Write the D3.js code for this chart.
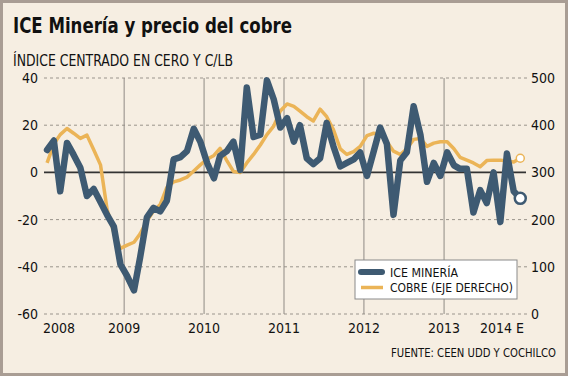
<!DOCTYPE html>
<html>
<head>
<meta charset="utf-8">
<script src="https://cdn.jsdelivr.net/npm/d3@7"></script>
<style>
  body { margin: 0; background: #fff; }
  svg text { font-family: "DejaVu Sans Condensed", "DejaVu Sans", sans-serif; fill: #111; }
</style>
</head>
<body>
<div id="chart"></div>
<script>
// monthly values, Jan 2008 .. Dec 2013
var iceMineria = [
  9.5, 13.5, -8, 12.5, 7.5, 2, -10, -7, -12.5, -18, -23, -39,
  -44, -50, -36, -19, -15, -16.5, -12, 5.5, 6.5, 9, 18.5, 13,
  4, -2.5, 7, 9, 13, 1, 36, 15, 16, 39, 31, 19,
  23, 13, 20, 6, 3.5, 6, 21, 11, 2.5, 4, 5.5, 8.5,
  -1.5, 9, 19, 12, -18, 5, 8.5, 28, 16, -4, 4, -1.5,
  8.5, 3, 1.5, 1.5, -17, -7.5, -13, 0, -21, 8, -8, -11
];
var cobre = [
  320, 360, 380, 393, 383, 372, 379, 348, 316, 222, 172, 139,
  146, 152, 170, 197, 218, 232, 268, 280, 284, 290, 303, 316,
  328, 336, 351, 325, 302, 300, 320, 338, 358, 380, 398, 430,
  445, 440, 430, 418, 409, 434, 418, 390, 350, 338, 344, 355,
  378, 383, 380, 365, 345, 338, 350, 370, 372, 355, 362, 365,
  365, 350, 332, 326, 320, 312, 325, 326, 326, 324, 322, 330
];
var leftTicks = [-60, -40, -20, 0, 20, 40];
var rightTicks = [0, 100, 200, 300, 400, 500];
var years = [2008, 2009, 2010, 2011, 2012, 2013, 2014];
var yearLabels = ["2008", "2009", "2010", "2011", "2012", "2013", "2014 E"];

var months = d3.timeMonth.range(new Date(2008, 0, 1), new Date(2014, 0, 1))
  .map(function (d) { return new Date(d.getFullYear(), d.getMonth(), 15); });

var W = 568, H = 376;
var blue = "#3e5a72", orange = "#ebb457";

var svg = d3.select("#chart").append("svg")
  .attr("width", W).attr("height", H);

svg.append("rect")
  .attr("x", 1.5).attr("y", 1.5).attr("width", W - 3).attr("height", H - 3)
  .attr("fill", "#f6eee2").attr("stroke", "#a99d94").attr("stroke-width", 3);

var x = d3.scaleTime()
  .domain([new Date(2008, 0, 1), new Date(2014, 0, 1)])
  .range([44, 524]);
var y = d3.scaleLinear().domain([-60, 40]).range([314, 78]);
var y2 = d3.scaleLinear().domain([0, 500]).range([314, 78]);

// title
svg.append("text")
  .attr("x", 13).attr("y", 33)
  .attr("font-size", 22).attr("font-weight", "bold")
  .attr("textLength", 279).attr("lengthAdjust", "spacingAndGlyphs")
  .text("ICE Minería y precio del cobre");
svg.append("text")
  .attr("x", 13).attr("y", 66)
  .attr("font-size", 15)
  .attr("textLength", 220).attr("lengthAdjust", "spacingAndGlyphs")
  .text("ÍNDICE CENTRADO EN CERO Y C/LB");

// horizontal grid
svg.append("g").selectAll("line")
  .data(leftTicks.filter(function (d) { return d !== 0; }))
  .join("line")
  .attr("x1", 44).attr("x2", 528)
  .attr("y1", function (d) { return y(d); })
  .attr("y2", function (d) { return y(d); })
  .attr("stroke", "#9a948c").attr("stroke-width", 1)
  .attr("stroke-dasharray", "3,3");

// vertical year lines
svg.append("g").selectAll("line")
  .data(years.slice(1, 6))
  .join("line")
  .attr("x1", function (d) { return x(new Date(d, 0, 1)); })
  .attr("x2", function (d) { return x(new Date(d, 0, 1)); })
  .attr("y1", y(40)).attr("y2", y(-60))
  .attr("stroke", "#8f8a84").attr("stroke-width", 1);

svg.append("line")
  .attr("x1", 44).attr("x2", 526)
  .attr("y1", y(0)).attr("y2", y(0))
  .attr("stroke", "#333").attr("stroke-width", 1.6);

// axes (plain hyphen minus like the original)
var fmt = function (d) { return String(d); };
var gl = svg.append("g")
  .attr("transform", "translate(38,0)")
  .call(d3.axisLeft(y).tickValues(leftTicks).tickFormat(fmt).tickSize(0).tickPadding(0));
gl.select(".domain").remove();
gl.selectAll("text").attr("font-size", 14).attr("font-family", null).attr("fill", "#111");

var gr = svg.append("g")
  .attr("transform", "translate(531,0)")
  .call(d3.axisRight(y2).tickValues(rightTicks).tickFormat(fmt).tickSize(0).tickPadding(0));
gr.select(".domain").remove();
gr.selectAll("text").attr("font-size", 14).attr("font-family", null).attr("fill", "#111");

svg.append("g").selectAll("text")
  .data(years)
  .join("text")
  .attr("x", function (d, i) {
    var px = x(new Date(d, 0, 1));
    if (i === 0) return px + 15;
    if (i === years.length - 1) return px - 22;
    return px;
  })
  .attr("y", 333)
  .attr("text-anchor", "middle")
  .attr("font-size", 14)
  .text(function (d, i) { return yearLabels[i]; });

// series
var lineL = d3.line()
  .x(function (d, i) { return x(months[i]); })
  .y(function (d) { return y(d); });
var lineR = d3.line()
  .x(function (d, i) { return x(months[i]); })
  .y(function (d) { return y2(d); });

svg.append("path")
  .attr("d", lineR(cobre))
  .attr("fill", "none").attr("stroke", orange).attr("stroke-width", 3.5)
  .attr("stroke-linejoin", "round");

svg.append("path")
  .attr("d", lineL(iceMineria))
  .attr("fill", "none").attr("stroke", blue).attr("stroke-width", 6.5)
  .attr("stroke-linejoin", "round").attr("stroke-linecap", "round");

var last = months.length - 1;
svg.append("circle")
  .attr("cx", x(months[last])).attr("cy", y2(cobre[last])).attr("r", 4)
  .attr("fill", "#fff").attr("stroke", orange).attr("stroke-width", 1.5);
svg.append("circle")
  .attr("cx", x(months[last])).attr("cy", y(iceMineria[last])).attr("r", 5.5)
  .attr("fill", "#fff").attr("stroke", blue).attr("stroke-width", 2.5);

// legend
var lg = svg.append("g").attr("transform", "translate(355,260)");
lg.append("rect").attr("width", 162).attr("height", 39)
  .attr("fill", "#fff").attr("stroke", "#8a8a8a");
lg.append("line").attr("x1", 6).attr("x2", 27).attr("y1", 12).attr("y2", 12)
  .attr("stroke", blue).attr("stroke-width", 6).attr("stroke-linecap", "round");
lg.append("line").attr("x1", 6).attr("x2", 28).attr("y1", 27.5).attr("y2", 27.5)
  .attr("stroke", orange).attr("stroke-width", 3.5);
lg.append("text").attr("x", 35).attr("y", 17).attr("font-size", 12.5)
  .attr("textLength", 68).attr("lengthAdjust", "spacingAndGlyphs")
  .text("ICE MINERÍA");
lg.append("text").attr("x", 35).attr("y", 32).attr("font-size", 12.5)
  .attr("textLength", 123).attr("lengthAdjust", "spacingAndGlyphs")
  .text("COBRE (EJE DERECHO)");

svg.append("text")
  .attr("x", 556).attr("y", 357)
  .attr("text-anchor", "end").attr("font-size", 12)
  .attr("textLength", 165).attr("lengthAdjust", "spacingAndGlyphs")
  .text("FUENTE: CEEN UDD Y COCHILCO");
</script>
</body>
</html>
